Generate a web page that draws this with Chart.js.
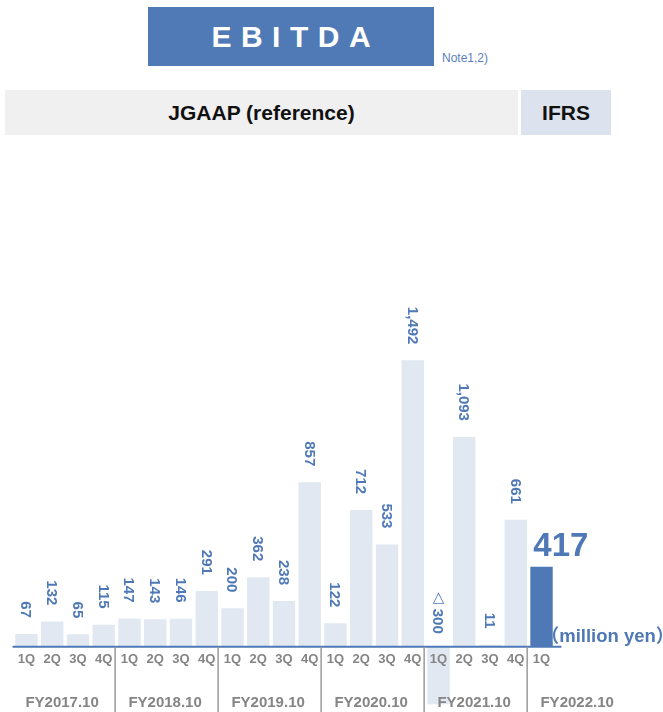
<!DOCTYPE html>
<html>
<head>
<meta charset="utf-8">
<script src="https://cdn.jsdelivr.net/npm/chart.js@4/dist/chart.umd.min.js"></script>
<style>
  html, body { margin: 0; padding: 0; background: #fff; }
  body { width: 663px; height: 712px; position: relative; overflow: hidden;
         font-family: "Liberation Sans", Arial, Helvetica, sans-serif; }
  .title { position: absolute; left: 148px; top: 7px; width: 286px; height: 59px;
           background: #507ab6; color: #fff; font-weight: bold; font-size: 30px;
           letter-spacing: 9.5px; text-indent: 9.5px; text-align: center; line-height: 59px; }
  .note { position: absolute; left: 442px; top: 51px; font-size: 12px; color: #5a7fc0; }
  .band { position: absolute; top: 90px; height: 45px; line-height: 45px; text-align: center;
          font-weight: bold; font-size: 21px; color: #111; }
  .jgaap { left: 5px; width: 513px; background: #f0f0f0; }
  .ifrs { left: 521px; width: 90px; background: #dce3ee; }
  #wrap { position: absolute; left: 0; top: 140px; width: 663px; height: 572px; }
</style>
</head>
<body>
<div class="title">EBITDA</div>
<div class="note">Note1,2)</div>
<div class="band jgaap">JGAAP (reference)</div>
<div class="band ifrs">IFRS</div>
<div id="wrap"><canvas id="chart"></canvas></div>

<script>
const quarters = [
  "1Q", "2Q", "3Q", "4Q",
  "1Q", "2Q", "3Q", "4Q",
  "1Q", "2Q", "3Q", "4Q",
  "1Q", "2Q", "3Q", "4Q",
  "1Q", "2Q", "3Q", "4Q",
  "1Q",
];
const fiscalYears = ["FY2017.10", "FY2018.10", "FY2019.10", "FY2020.10", "FY2021.10", "FY2022.10"];
const quartersPerYear = [4, 4, 4, 4, 4, 1];
// million yen
const ebitda = [
  67, 132, 65, 115,
  147, 143, 146, 291,
  200, 362, 238, 857,
  122, 712, 533, 1492,
  -300, 1093, 11, 661,
  417,
];
const unitLabel = "（million yen）";

const BLUE = "#4f79b6";
const PALE = "#e1e8f1";
const GREY = "#858585";
const FONT = '"Liberation Sans", Arial, Helvetica, sans-serif';

const lastIdx = ebitda.length - 1;
const barColors = ebitda.map((v, i) => (i === lastIdx ? BLUE : PALE));

const fmt = (v) => Math.abs(v).toLocaleString("en-US");

// axis line, quarter / year labels, separators and value labels
const decorations = {
  id: "decorations",
  afterDatasetsDraw(chart) {
    const { ctx, chartArea, scales } = chart;
    const x = scales.x;
    const y = scales.y;
    const y0 = y.getPixelForValue(0);
    const meta = chart.getDatasetMeta(0);
    const step = x.getPixelForValue(1) - x.getPixelForValue(0);

    ctx.save();

    // zero line
    ctx.strokeStyle = BLUE;
    ctx.lineWidth = 2;
    ctx.beginPath();
    ctx.moveTo(chartArea.left - 1, y0);
    ctx.lineTo(chartArea.right + 7, y0);
    ctx.stroke();

    // quarter labels
    ctx.fillStyle = GREY;
    ctx.font = "bold 13px " + FONT;
    ctx.textAlign = "center";
    ctx.textBaseline = "middle";
    quarters.forEach((q, i) => ctx.fillText(q, x.getPixelForValue(i), y0 + 13));

    // fiscal year groups, each label centred on a four-quarter slot
    let start = 0;
    ctx.font = "bold 15px " + FONT;
    fiscalYears.forEach((fy, g) => {
      const n = quartersPerYear[g];
      const cx = x.getPixelForValue(start) + 1.5 * step;
      ctx.fillStyle = GREY;
      ctx.fillText(fy, cx - 3, y0 + 56);
      if (g > 0) {
        const sx = x.getPixelForValue(start) - step / 2 - 1.5;
        ctx.strokeStyle = "#9a9a9a";
        ctx.lineWidth = 1.5;
        ctx.beginPath();
        ctx.moveTo(sx, y0);
        ctx.lineTo(sx, chartArea.bottom);
        ctx.stroke();
      }
      start += n;
    });

    // value labels
    ctx.fillStyle = BLUE;
    meta.data.forEach((bar, i) => {
      const v = ebitda[i];
      if (i === lastIdx) {
        ctx.font = "bold 33px " + FONT;
        ctx.textAlign = "left";
        ctx.textBaseline = "alphabetic";
        ctx.fillText(fmt(v), bar.x - bar.width / 2 + 3, bar.y - 11);
        ctx.font = "bold 18.5px " + FONT + ', "Noto Sans CJK JP"';
        ctx.fillText(unitLabel, bar.x + bar.width / 2 - 12, y0 - 5);
        return;
      }
      const top = v < 0 ? y0 + 3 : bar.y;
      ctx.save();
      ctx.translate(bar.x, top - 16);
      ctx.rotate(Math.PI / 2);
      ctx.font = "bold 15px " + FONT;
      ctx.textAlign = "right";
      ctx.textBaseline = "middle";
      ctx.fillText(fmt(v), 0, 1);
      const len = ctx.measureText(fmt(v)).width;
      ctx.restore();
      if (v < 0) {
        ctx.font = '15px "DejaVu Sans", ' + FONT;
        ctx.textAlign = "center";
        ctx.textBaseline = "middle";
        ctx.fillText("△", bar.x, top - 16 - len - 11);
      }
    });

    ctx.restore();
  },
};

new Chart(document.getElementById("chart"), {
  type: "bar",
  data: {
    labels: quarters,
    datasets: [{
      data: ebitda,
      backgroundColor: barColors,
      borderWidth: 0,
      barPercentage: 0.87,
      categoryPercentage: 1,
    }],
  },
  options: {
    responsive: true,
    maintainAspectRatio: false,
    animation: false,
    layout: { padding: { left: 13.6, right: 108.6, top: 0, bottom: 0 } },
    scales: {
      x: { display: false },
      y: { display: false, min: -340, max: 2640 },
    },
    plugins: {
      legend: { display: false },
      tooltip: { enabled: false },
    },
  },
  plugins: [decorations],
});
</script>
</body>
</html>
